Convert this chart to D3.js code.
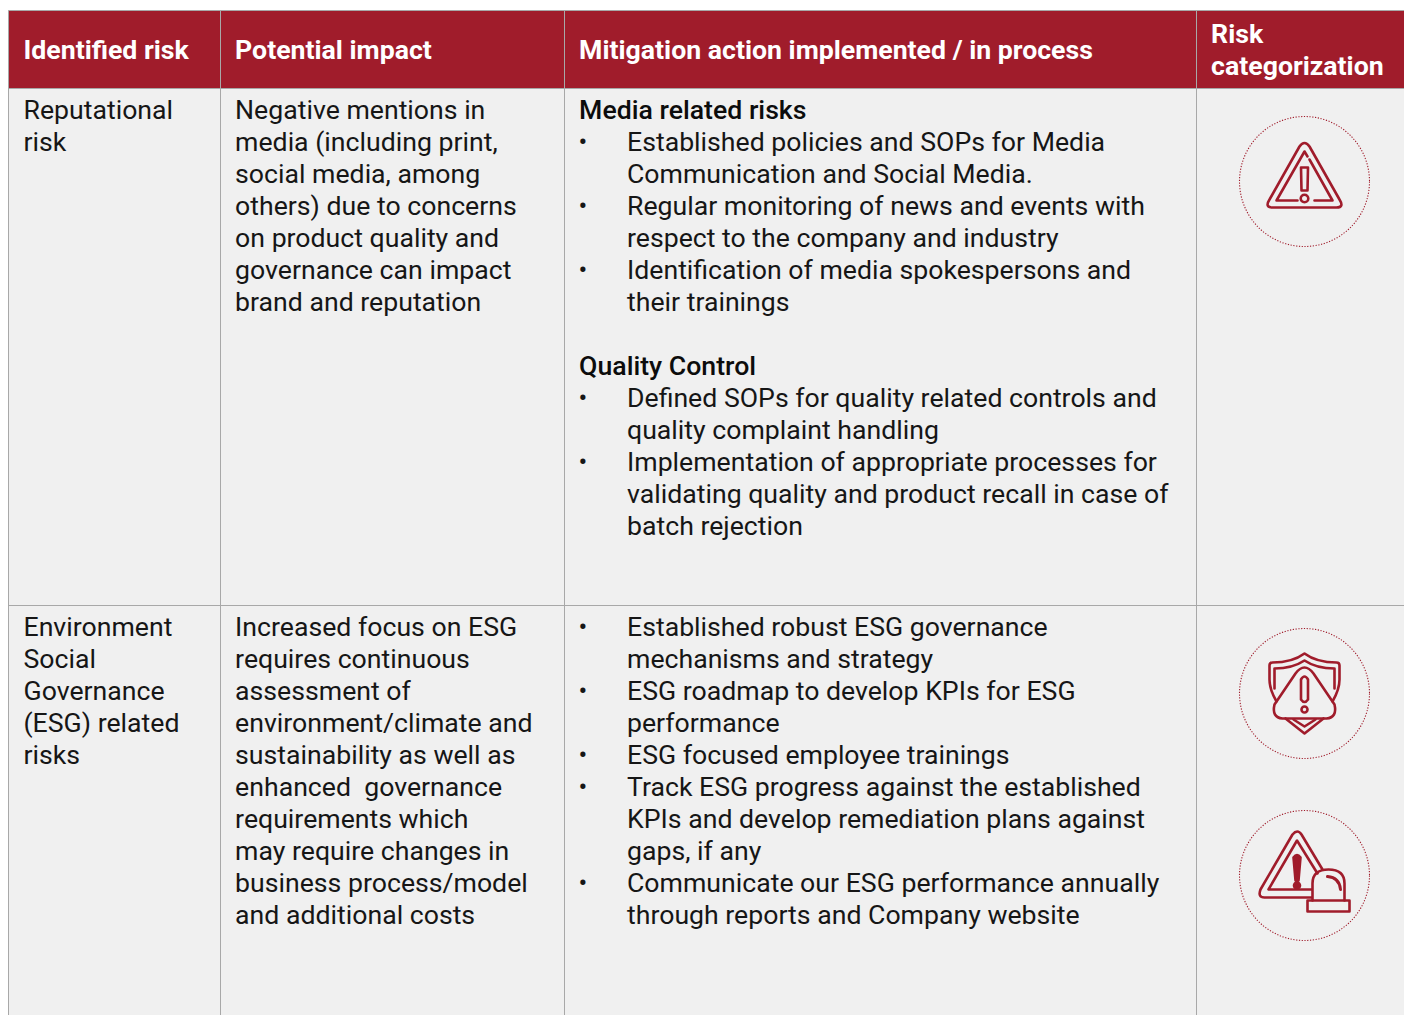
<!DOCTYPE html>
<html>
<head>
<meta charset="utf-8">
<script src="https://cdnjs.cloudflare.com/ajax/libs/d3/7.8.5/d3.min.js"></script>
<style>
  html, body { margin: 0; padding: 0; background: #fff; overflow: hidden; }
  text { font-family: Roboto, sans-serif; font-size: 26.67px; fill: #161616; white-space: pre; }
  .head { font-weight: 700; fill: #fff; }
  .sub { font-weight: 500; fill: #0c0c0c; }
</style>
</head>
<body>
<div id="chart"></div>
<script>
const headers = [
  ["Identified risk"],
  ["Potential impact"],
  ["Mitigation action implemented / in process"],
  ["Risk", "categorization"]
];

const risks = [
  ["Reputational", "risk"],
  ["Environment", "Social", "Governance", "(ESG) related", "risks"]
];

const impacts = [
  ["Negative mentions in", "media (including print,", "social media, among", "others) due to concerns",
   "on product quality and", "governance can impact", "brand and reputation"],
  ["Increased focus on ESG", "requires continuous", "assessment of", "environment/climate and",
   "sustainability as well as", "enhanced  governance", "requirements which",
   "may require changes in", "business process/model", "and additional costs"]
];

// "#" starts a bold sub heading, "*" starts a bullet, "" is an empty line
const mitigations = [
  ["#Media related risks",
   "*Established policies and SOPs for Media", "Communication and Social Media.",
   "*Regular monitoring of news and events with", "respect to the company and industry",
   "*Identification of media spokespersons and", "their trainings",
   "",
   "#Quality Control",
   "*Defined SOPs for quality related controls and", "quality complaint handling",
   "*Implementation of appropriate processes for", "validating quality and product recall in case of", "batch rejection"],
  ["*Established robust ESG governance", "mechanisms and strategy",
   "*ESG roadmap to develop KPIs for ESG", "performance",
   "*ESG focused employee trainings",
   "*Track ESG progress against the established", "KPIs and develop remediation plans against", "gaps, if any",
   "*Communicate our ESG performance annually", "through reports and Company website"]
];

const red = "#a01c2b";
const rule = "#a8a8a8";
const width = 1404, height = 1015;
const colEdges = [8.5, 220.5, 564.5, 1196.5, 1420];
const rowEdges = [10.5, 88.5, 605.5, 1030];
const textPad = [15, 14.6, 14.6, 14.6];
const lineH = 32;
const bulletX = 583, bulletTextX = 627;

const svg = d3.select("#chart").append("svg")
  .attr("width", width)
  .attr("height", height)
  .style("display", "block");

// backgrounds
svg.append("rect")
  .attr("x", colEdges[0]).attr("y", rowEdges[0])
  .attr("width", width).attr("height", rowEdges[1] - rowEdges[0])
  .attr("fill", red);
svg.append("rect")
  .attr("x", colEdges[0]).attr("y", rowEdges[1])
  .attr("width", width).attr("height", height)
  .attr("fill", "#f0f0f0");

// grid lines
svg.append("line").attr("x1", colEdges[0]).attr("x2", width)
  .attr("y1", rowEdges[0]).attr("y2", rowEdges[0]).attr("stroke", rule);
svg.selectAll(".hline").data(rowEdges.slice(1, 3)).enter().append("line")
  .attr("x1", colEdges[0]).attr("x2", width)
  .attr("y1", d => d).attr("y2", d => d)
  .attr("stroke", rule);
svg.selectAll(".vline").data(colEdges.slice(0, 4)).enter().append("line")
  .attr("x1", d => d).attr("x2", d => d)
  .attr("y1", rowEdges[0]).attr("y2", height)
  .attr("stroke", rule);

function drawLines(lines, x, y, cls) {
  svg.append("g").selectAll("text").data(lines).enter().append("text")
    .attr("class", cls || null)
    .attr("x", x)
    .attr("y", (d, i) => y + i * lineH)
    .text(d => d);
}

// header
const headY = [59, 59, 59, 43];
headers.forEach((h, i) => {
  drawLines(h, colEdges[i] + textPad[i], headY[i], "head");
});

// body rows
const rowBase = [119, 636];
rowBase.forEach((y, r) => {
  drawLines(risks[r], colEdges[0] + textPad[0], y);
  drawLines(impacts[r], colEdges[1] + textPad[1], y);

  const g = svg.append("g").selectAll("g").data(mitigations[r]).enter().append("g");
  g.each(function(d, i) {
    const line = d3.select(this);
    const ly = y + i * lineH;
    if (d[0] === "#") {
      line.append("text").attr("class", "sub").attr("x", colEdges[2] + textPad[2]).attr("y", ly).text(d.slice(1));
    } else if (d[0] === "*") {
      line.append("text").attr("x", bulletX).attr("y", ly).attr("text-anchor", "middle").style("font-size", "26px").text("•");
      line.append("text").attr("x", bulletTextX).attr("y", ly).text(d.slice(1));
    } else if (d) {
      line.append("text").attr("x", bulletTextX).attr("y", ly).text(d);
    }
  });
});

// icons
const iconCentres = [[1304.5, 181.5], [1304.5, 693.5], [1304.5, 875.5]];
const icons = svg.selectAll(".icon").data(iconCentres).enter().append("g")
  .attr("transform", d => `translate(${d[0]},${d[1]})`)
  .attr("fill", "none")
  .attr("stroke", red)
  .attr("stroke-width", 2.6)
  .attr("stroke-linejoin", "round")
  .attr("stroke-linecap", "round");

icons.append("circle")
  .attr("r", 65)
  .attr("stroke-width", 1.1)
  .attr("stroke-linecap", "butt")
  .attr("stroke-dasharray", "1.2 1.6");

function addPaths(g, paths) {
  paths.forEach(p => g.append("path").attr("d", p));
}

// icon 1: warning triangle
const warn = d3.select(icons.nodes()[0]);
addPaths(warn, [
  "M-5,-35 Q0,-42 5,-35 L35,18 Q40,26 32,26 L-32,26 Q-40,26 -35,18 Z",
  "M-7,19 L-28,19 L0,-30 L3,-25",
  "M10,19 L28,19 L5,-22",
  "M-3.5,-14 L3.5,-14 L3,9 L-3,9 Z"
]);
warn.append("circle").attr("cx", 0).attr("cy", 17).attr("r", 3.8);

// icon 2: shield with triangle
const shield = d3.select(icons.nodes()[1]);
addPaths(shield, [
  "M-28,8 Q-35,-4 -35,-14 L-35,-28 Q-35,-31 -32,-31 Q-12,-31 0,-40 Q12,-31 32,-31 Q35,-31 35,-28 L35,-14 Q35,-4 28,8",
  "M-30,-5 L-30,-25 Q-12,-25 0,-33 Q12,-25 30,-25 L30,-5",
  "M-19,25 L0,40 L19,25",
  "M-11,26 L0,33 L11,26",
  "M-9,-20 Q0,-32 9,-20 L30,11 Q33,24 22,25 L-22,25 Q-33,24 -30,11 Z",
  "M-3.5,-14 Q0,-20 3.5,-14 L3.5,6 Q0,11 -3.5,6 Z"
]);
shield.append("circle").attr("cx", 0).attr("cy", 16).attr("r", 3);

// icon 3: warning triangle with siren
const siren = d3.select(icons.nodes()[2]);
addPaths(siren, [
  "M18,-6 L-3,-41 Q-7,-47 -12,-41 L-44,14 Q-47,22 -40,22 L7,22",
  "M13,-2 L-7.5,-35 L-36,14 L7,14",
  "M8,25 L8,8 Q8,-6 24,-6 Q40,-6 40,8 L40,25",
  "M3,25 L45,25 L45,36 L3,36 Z"
]);
siren.append("path").attr("d", "M23,1 Q35,2 36,14").attr("stroke-width", 3);
siren.append("path")
  .attr("d", "M-11,-18 Q-7.5,-23 -4,-18 L-6,5 L-9,5 Z M-7.5,10 m-3,0 a3,3 0 1,0 6,0 a3,3 0 1,0 -6,0")
  .attr("fill", red);
</script>
</body>
</html>
